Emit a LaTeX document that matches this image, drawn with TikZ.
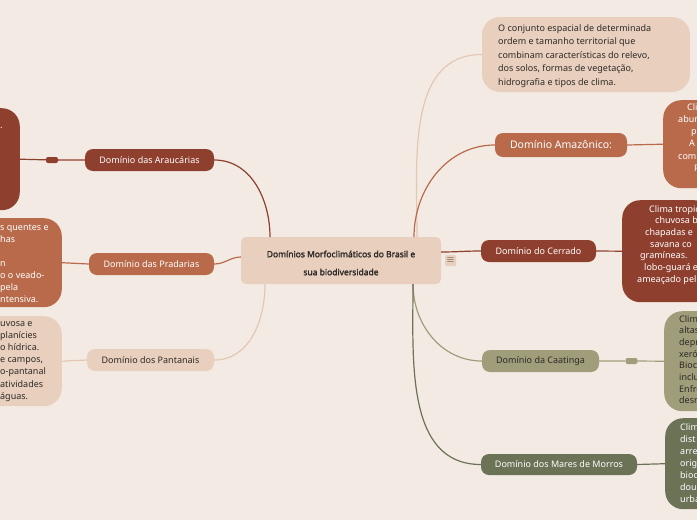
\documentclass[tikz,border=0pt]{standalone}
\usepackage{fontspec}
\setmainfont{Noto Sans}[AutoFakeBold=2]
\usetikzlibrary{positioning}

\definecolor{paper}{HTML}{F3EBE3}
\definecolor{sand}{HTML}{E8CFBE}
\definecolor{sandline}{HTML}{E3C7B3}
\definecolor{rust}{HTML}{8E3F2E}
\definecolor{clay}{HTML}{B86A4B}
\definecolor{olive}{HTML}{A09D7A}
\definecolor{moss}{HTML}{6B7256}
\definecolor{ink}{HTML}{2E2A26}

\tikzset{
  branch/.style={rounded corners=8pt, minimum height=22pt, inner sep=0pt, font=\fontsize{9}{10}\selectfont},
  detail/.style={rounded corners=18pt, inner sep=0pt},
  txt/.style={font=\fontsize{9}{11.7}\selectfont, align=left, inner sep=0pt, anchor=north west},
  handle/.style={rounded corners=2pt, minimum width=12pt, minimum height=6pt, inner sep=0pt},
  link/.style={line width=1.2pt},
}

\begin{document}
\begin{tikzpicture}[x=1pt,y=-1pt]
        \useasboundingbox (0,0) rectangle (697,520);
        \clip (0,0) rectangle (697,520);
        \fill[paper] (0,0) rectangle (697,520);

        \coordinate (rA) at (270,237);
        \coordinate (rB) at (241,257);
        \coordinate (rC) at (265,284);
        \coordinate (rD) at (417,237);
        \coordinate (rE) at (414,237);
        \coordinate (rF) at (441,252);
        \coordinate (rG) at (413,284);

        \node[fill=sand, rounded corners=5pt, minimum width=200pt, minimum height=47pt, inner sep=0pt] (root) at (341,260.5) {};
        \node[align=center, text=ink, inner sep=0pt, font=\bfseries\fontsize{8.5}{18}\selectfont] (title) at (341,263)
              {Domínios Morfoclimáticos do Brasil e\\sua biodiversidade};
        \node[fill=sand, rounded corners=1pt, minimum size=11pt, inner sep=0pt, text=ink] (menu) at (450.5,260.5) {$\equiv$};

        \node[branch, fill=rust, text=white, minimum width=129pt] (arau) at (149.5,160) {Domínio das Araucárias};
        \node[branch, fill=clay, text=white, minimum width=125pt] (prad) at (151.5,264) {Domínio das Pradarias};
        \node[branch, fill=sand, text=ink, minimum width=127pt] (pant) at (150.5,360) {Domínio dos Pantanais};

        \node[detail, fill=rust, minimum width=80pt, minimum height=102pt, anchor=north east] (araud) at (20,108) {};
        \node[handle, fill=rust] (arauh) at (52,160) {};
        \node[txt, text=white] (araut) at (0,127) {.};

        \node[detail, fill=clay, minimum width=100pt, minimum height=89pt, anchor=north east] (pradd) at (62,218) {};
        \node[txt, text=white, font=\fontsize{9}{12}\selectfont] (pradt) at (0,224)
              {s quentes e\\has\\\mbox{}\\n\\o o veado-\\pela\\ntensiva.};

        \node[detail, fill=sand, minimum width=100pt, minimum height=90pt, anchor=north east] (pantd) at (62,316) {};
        \node[txt, text=ink, font=\fontsize{9}{12.2}\selectfont] (pantt) at (0,321)
              {uvosa e\\planícies\\o hídrica.\\e campos,\\o-pantanal\\atividades\\águas.};

        \node[fill=sand, rounded corners=18pt, minimum width=208pt, minimum height=75pt, inner sep=0pt] (conc) at (586,54.5) {};
        \node[txt, text=ink, font=\fontsize{9}{13.5}\selectfont] (conct) at (498,24)
              {O conjunto espacial de determinada\\ordem e tamanho territorial que\\combinam características do relevo,\\dos solos, formas de vegetação,\\hidrografia e tipos de clima.};

        \node[branch, fill=clay, text=white, minimum width=132pt, minimum height=24pt, font=\fontsize{10.5}{12}\selectfont] (amaz) at (561,145) {Domínio Amazônico:};
        \node[detail, fill=clay, minimum width=80pt, minimum height=88pt, anchor=north west] (amazd) at (663,100) {};
        \node[txt, text=white, font=\fontsize{9}{12.3}\selectfont] (amazt) at (678,103)
              {\hspace{9pt}Cli\\abun\\\hspace{13pt}p\\\hspace{11pt}A\\com\\\hspace{16pt}P};

        \node[branch, fill=rust, text=white, minimum width=115pt] (cerr) at (538.5,251) {Domínio do Cerrado};
        \node[detail, fill=rust, minimum width=90pt, minimum height=102pt, anchor=north west] (cerrd) at (622,200) {};
        \node[txt, text=white] (cerrt) at (637,205)
              {\hspace{12pt}Clima tropic\\\hspace{18pt}chuvosa be\\\hspace{8pt}chapadas e\\\hspace{13pt}savana co\\\hspace{3pt}gramíneas.\\\hspace{7pt}lobo-guará e\\ameaçado pel};

        \node[branch, fill=olive, text=ink, minimum width=117pt] (caat) at (540.5,361) {Domínio da Caatinga};
        \node[handle, fill=olive] (caath) at (631.5,361) {};
        \node[detail, fill=olive, minimum width=80pt, minimum height=100pt, anchor=north west] (caatd) at (664,311) {};
        \node[txt, text=ink] (caatt) at (679,315)
              {Clim\\altas\\depr\\xeró\\Bioc\\inclu\\Enfre\\desm};

        \node[branch, fill=moss, text=white, minimum width=156pt, minimum height=21pt] (mare) at (559,464.5) {Domínio dos Mares de Morros};
        \node[detail, fill=moss, minimum width=80pt, minimum height=91pt, anchor=north west] (mared) at (665,418) {};
        \node[txt, text=white, font=\fontsize{9}{12}\selectfont] (maret) at (680,423)
              {Clim\\dist\\arre\\orig\\bioc\\dou\\urba};

        \draw[link, rust] (rA) to[out=90,in=0] (arau.east);
        \draw[link, clay] (rB) to[out=180,in=0] (prad.east);
        \draw[link, sandline] (rC) to[out=-90,in=0] (pant.east);
        \draw[link, sandline] (rD) to[out=90,in=180] (conc.west);
        \draw[link, clay] (rE) to[out=90,in=180] (amaz.west);
        \draw[link, rust] (rF) to[out=0,in=180] (cerr.west);
        \draw[link, olive] (rG) to[out=-90,in=180] (caat.west);
        \draw[link, moss] (rG) to[out=-90,in=180] (mare.west);

        \draw[link, rust] (arau.west) -- (arauh) -- (araud.east);
        \draw[link, clay] (prad.west) -- (pradd.east);
        \draw[link, sandline] (pant.west) -- (pantd.east);
        \draw[link, clay] (amaz.east) -- (amazd.west);
        \draw[link, rust] (cerr.east) -- (cerrd.west);
        \draw[link, olive] (caat.east) -- (caath) -- (caatd.west);
        \draw[link, moss] (mare.east) -- (mared.west);
\end{tikzpicture}
\end{document}
